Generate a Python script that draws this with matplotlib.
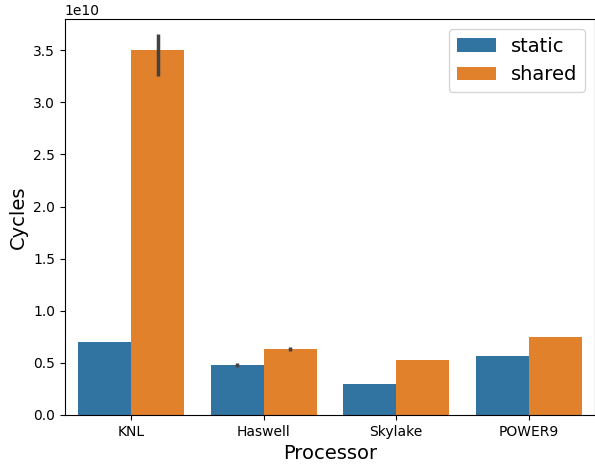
import numpy as np
import matplotlib.pyplot as plt

processors = ['KNL', 'Haswell', 'Skylake', 'POWER9']
static_cycles = [0.70e10, 0.48e10, 0.30e10, 0.56e10]
shared_cycles = [3.50e10, 0.635e10, 0.53e10, 0.75e10]
# confidence interval ends (low, high), None where no visible bar
static_ci = [None, (0.46e10, 0.495e10), None, None]
shared_ci = [(3.25e10, 3.655e10), (0.615e10, 0.65e10), None, None]

colors = ['#3274a1', '#e1812c']

fig = plt.figure(figsize=(5.95, 4.65), dpi=100)
ax = fig.add_axes([0.109, 0.108, 0.891, 0.851])

x = np.arange(len(processors))
w = 0.4
ax.bar(x - w / 2, static_cycles, w, color=colors[0], label='static')
ax.bar(x + w / 2, shared_cycles, w, color=colors[1], label='shared')

for offset, cis in [(-w / 2, static_ci), (w / 2, shared_ci)]:
    for i, ci in enumerate(cis):
        if ci is not None:
            ax.plot([x[i] + offset] * 2, ci, color='#424242', lw=2.5, solid_capstyle='butt')

ax.set_xticks(x)
ax.set_xticklabels(processors)
ax.set_xlim(-0.5, 3.5)
ax.set_ylim(0, 3.8e10)
ax.set_xlabel('Processor', fontsize=14)
ax.set_ylabel('Cycles', fontsize=14)
ax.legend(fontsize=14, loc='upper right')

fig.savefig('out.png', dpi=100)
